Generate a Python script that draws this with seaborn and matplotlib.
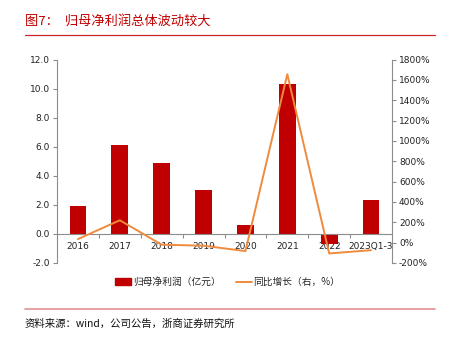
import matplotlib
matplotlib.use("Agg")
import matplotlib.pyplot as plt
import seaborn as sns
import pandas as pd
from matplotlib.patches import Patch
from matplotlib.lines import Line2D
from matplotlib.ticker import FixedLocator, FuncFormatter

sns.set_theme(style="white")
plt.rcParams['font.family'] = ['Noto Sans CJK SC', 'DejaVu Sans']

years = ["2016", "2017", "2018", "2019", "2020", "2021", "2022", "2023Q1-3"]
profit = [1.9, 6.1, 4.9, 3.0, 0.6, 10.3, -0.7, 2.3]
growth = [35, 220, -20, -30, -83, 1655, -106, -74]
left_ticks = [-2.0, 0.0, 2.0, 4.0, 6.0, 8.0, 10.0, 12.0]
right_ticks = [-200, 0, 200, 400, 600, 800, 1000, 1200, 1400, 1600, 1800]

df = pd.DataFrame({"year": years, "profit": profit, "growth": growth})

BAR = "#C00000"
LINE = "#F08A3C"
GRAY = "#8C8C8C"

fig = plt.figure(figsize=(4.51, 3.48), dpi=100)
ax = fig.add_axes([57/451, 1-263/348, (392-57)/451, (263-59.5)/348])

sns.barplot(data=df, x="year", y="profit", color=BAR, width=0.4,
            saturation=1, ax=ax, zorder=2, linewidth=0)
ax.set_ylim(-2, 12)
ax.set_xlim(-0.5, len(years)-0.5)
ax.set_xlabel("")
ax.set_ylabel("")
ax.yaxis.set_major_locator(FixedLocator(left_ticks))
ax.yaxis.set_major_formatter(FuncFormatter(lambda v, p: f"{v:.1f}"))
ax.spines['top'].set_visible(False)
ax.spines['right'].set_visible(False)
ax.spines['bottom'].set_position(('data', 0))
for s in ['left', 'bottom']:
    ax.spines[s].set_color(GRAY)
    ax.spines[s].set_linewidth(0.8)
ax.spines['bottom'].set_zorder(3)
ax.tick_params(axis='y', direction='out', length=3, color=GRAY, width=0.8,
               labelsize=6.5, labelcolor="#222222", pad=2, left=True)
ax.set_xticks(range(len(years)))
ax.set_xticklabels(years, family=['DejaVu Sans'])
ax.set_xticks([i + 0.5 for i in range(len(years)-1)], minor=True)
ax.tick_params(axis='x', which='major', length=0, labelsize=6.5,
               labelcolor="#222222", pad=6)
ax.tick_params(axis='x', which='minor', direction='out', length=3,
               color=GRAY, width=0.8, bottom=True)
for lab in ax.get_yticklabels():
    lab.set_family('DejaVu Sans')

ax2 = ax.twinx()
sns.lineplot(data=df, x="year", y="growth", color=LINE, linewidth=1.4,
             ax=ax2, sort=False, zorder=4)
ax2.set_ylim(-200, 1800)
ax2.set_xlim(-0.5, len(years)-0.5)
ax2.set_ylabel("")
ax2.set_xlabel("")
ax2.yaxis.set_major_locator(FixedLocator(right_ticks))
ax2.yaxis.set_major_formatter(FuncFormatter(lambda v, p: f"{v:.0f}%"))
for s in ['top', 'left', 'bottom']:
    ax2.spines[s].set_visible(False)
ax2.spines['right'].set_color(GRAY)
ax2.spines['right'].set_linewidth(0.8)
ax2.tick_params(axis='y', direction='out', length=3, color=GRAY, width=0.8,
                labelsize=6.5, labelcolor="#222222", pad=2, right=True)
for lab in ax2.get_yticklabels():
    lab.set_family('DejaVu Sans')
ax2.grid(False)
ax.grid(False)

handles = [Patch(facecolor=BAR, edgecolor=BAR),
           Line2D([0], [0], color=LINE, linewidth=1.4)]
fig.legend(handles, ["归母净利润（亿元）", "同比增长（右，%）"], loc='center',
           bbox_to_anchor=(0.505, 1-282/348), ncol=2, frameon=False,
           fontsize=7, handlelength=1.6, handleheight=0.7, columnspacing=1.6,
           handletextpad=0.2)

# header and footer
fig.text(25/451, 1-21/348, "图7：  归母净利润总体波动较大", color=BAR, fontsize=9.5,
         va='center', ha='left')
fig.add_artist(Line2D([25/451, 435/451], [1-34.5/348, 1-34.5/348],
                      color="#C8282A", linewidth=0.9))
fig.add_artist(Line2D([25/451, 435/451], [1-309/348, 1-309/348],
                      color="#E59A9A", linewidth=1.3))
fig.text(25/451, 1-324/348, "资料来源：wind，公司公告，浙商证券研究所", color="#111111",
         fontsize=7.5, va='center', ha='left')

fig.savefig("out.png", dpi=100)
